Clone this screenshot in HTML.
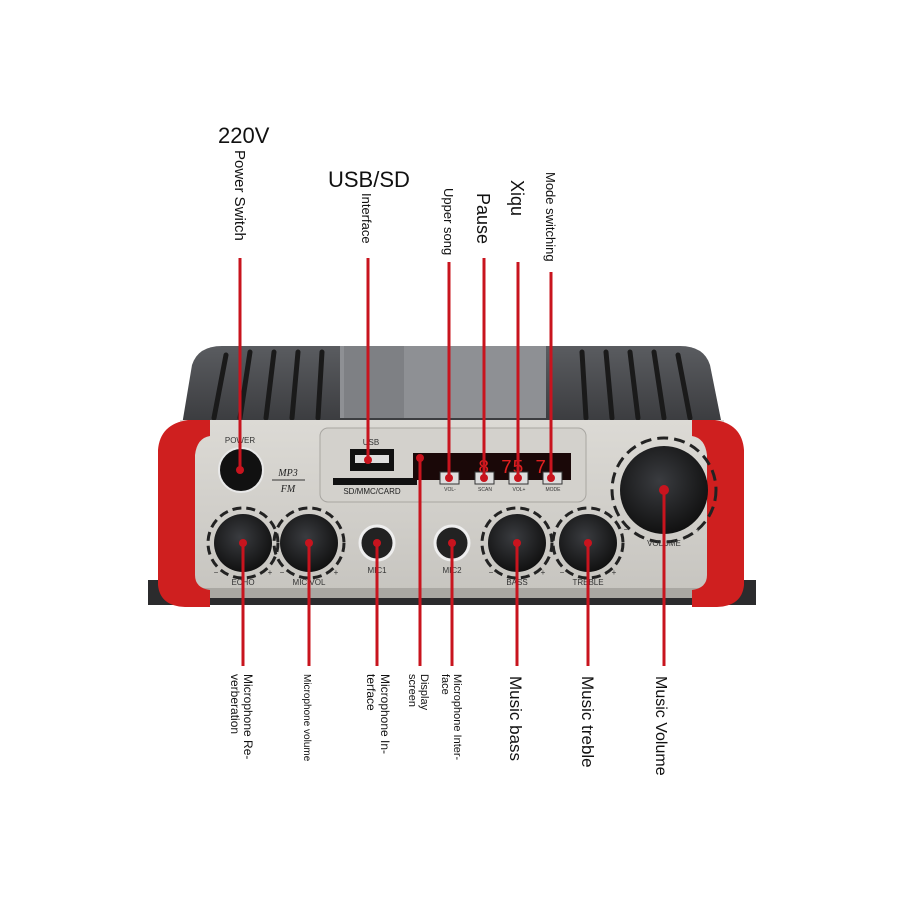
<!DOCTYPE html>
<html><head><meta charset="utf-8"><style>
html,body{margin:0;padding:0;background:#fff;}
svg{display:block;font-family:"Liberation Sans",Arial,sans-serif;}
</style></head><body>
<svg width="900" height="900" viewBox="0 0 900 900" xmlns="http://www.w3.org/2000/svg">
<defs>
<linearGradient id="hs" x1="0" y1="0" x2="0" y2="1"><stop offset="0" stop-color="#5a5c60"/><stop offset="1" stop-color="#3a3b3e"/></linearGradient>
<linearGradient id="panel" x1="0" y1="0" x2="0" y2="1"><stop offset="0" stop-color="#dcdad5"/><stop offset="1" stop-color="#c6c4bf"/></linearGradient>
<radialGradient id="knob" cx="0.45" cy="0.4" r="0.6"><stop offset="0" stop-color="#3a3c40"/><stop offset="1" stop-color="#111"/></radialGradient>
</defs>
<rect x="148" y="580" width="608" height="25" fill="#2b2b2d"/>
<path d="M182 425 L192 365 Q198 346 222 346 L680 346 Q704 346 710 365 L722 425 Z" fill="url(#hs)"/>
<g stroke="#1a1a1a" stroke-width="5" stroke-linecap="round">
<line x1="226" y1="355" x2="214" y2="418"/><line x1="250" y1="352" x2="240" y2="418"/><line x1="274" y1="352" x2="266" y2="418"/><line x1="298" y1="352" x2="292" y2="418"/><line x1="322" y1="352" x2="318" y2="418"/>
<line x1="582" y1="352" x2="586" y2="418"/><line x1="606" y1="352" x2="612" y2="418"/><line x1="630" y1="352" x2="638" y2="418"/><line x1="654" y1="352" x2="664" y2="418"/><line x1="678" y1="355" x2="690" y2="418"/>
</g>
<rect x="340" y="346" width="206" height="72" fill="#8e9094"/>
<rect x="344" y="346" width="60" height="72" fill="#7e8084"/>
<rect x="180" y="420" width="544" height="178" fill="url(#panel)"/>
<rect x="180" y="588" width="544" height="10" fill="#a9a7a2"/>
<path d="M210 420 L188 420 Q160 424 158 450 L158 585 Q160 606 185 607 L210 607 L210 590 Q195 588 195 575 L195 455 Q197 438 210 436 Z" fill="#cf1f1f"/>
<path d="M692 420 L715 420 Q742 424 744 450 L744 585 Q742 606 717 607 L692 607 L692 590 Q707 588 707 575 L707 455 Q705 438 692 436 Z" fill="#cf1f1f"/>
<rect x="320" y="428" width="266" height="74" rx="8" fill="#d3d1cc" stroke="#a8a6a1"/>
<text x="371" y="445" font-size="8" text-anchor="middle" fill="#333">USB</text>
<rect x="350" y="449" width="44" height="22" fill="#111"/>
<rect x="355" y="455" width="34" height="8" fill="#ddd"/>
<rect x="333" y="478" width="84" height="7" fill="#111"/>
<text x="372" y="494" font-size="8" text-anchor="middle" fill="#222">SD/MMC/CARD</text>
<rect x="413" y="453" width="158" height="27" fill="#1a0808"/>
<text x="478" y="473" font-size="19" fill="#e02020" font-family="Liberation Mono,monospace">8 75 7</text>
<g fill="#ddd" stroke="#333"><rect x="440" y="472" width="19" height="12"/><rect x="475" y="472" width="19" height="12"/><rect x="509" y="472" width="19" height="12"/><rect x="543" y="472" width="19" height="12"/></g>
<g font-size="5" fill="#333" text-anchor="middle"><text x="450" y="491">VOL-</text><text x="485" y="491">SCAN</text><text x="519" y="491">VOL+</text><text x="553" y="491">MODE</text></g>
<text x="240" y="443" font-size="8" text-anchor="middle" fill="#333">POWER</text>
<circle cx="241" cy="470" r="22" fill="#111" stroke="#e8e8e8" stroke-width="2"/>
<text x="288" y="476" font-size="10" font-style="italic" text-anchor="middle" fill="#222" font-family="Liberation Serif,serif">MP3</text>
<line x1="272" y1="480" x2="305" y2="480" stroke="#333"/>
<text x="288" y="492" font-size="10" font-style="italic" text-anchor="middle" fill="#222" font-family="Liberation Serif,serif">FM</text>
<g>
<circle cx="243" cy="543" r="35" fill="none" stroke="#222" stroke-width="3" stroke-dasharray="9 5"/>
<circle cx="243" cy="543" r="29" fill="url(#knob)"/>
<circle cx="309" cy="543" r="35" fill="none" stroke="#222" stroke-width="3" stroke-dasharray="9 5"/>
<circle cx="309" cy="543" r="29" fill="url(#knob)"/>
<circle cx="377" cy="543" r="17" fill="#222" stroke="#eee" stroke-width="3"/>
<circle cx="452" cy="543" r="17" fill="#222" stroke="#eee" stroke-width="3"/>
<circle cx="517" cy="543" r="35" fill="none" stroke="#222" stroke-width="3" stroke-dasharray="9 5"/>
<circle cx="517" cy="543" r="29" fill="url(#knob)"/>
<circle cx="588" cy="543" r="35" fill="none" stroke="#222" stroke-width="3" stroke-dasharray="9 5"/>
<circle cx="588" cy="543" r="29" fill="url(#knob)"/>
<circle cx="664" cy="490" r="52" fill="none" stroke="#222" stroke-width="3" stroke-dasharray="11 6"/>
<circle cx="664" cy="490" r="44" fill="url(#knob)"/>
</g>
<g font-size="8" fill="#333" text-anchor="middle">
<text x="243" y="585">ECHO</text><text x="309" y="585">MIC VOL</text><text x="377" y="573">MIC1</text><text x="452" y="573">MIC2</text><text x="517" y="585">BASS</text><text x="588" y="585">TREBLE</text><text x="664" y="546">VOLUME</text>
<text x="216" y="575">−</text><text x="270" y="575">+</text><text x="282" y="575">−</text><text x="336" y="575">+</text><text x="491" y="575">−</text><text x="543" y="575">+</text><text x="562" y="575">−</text><text x="614" y="575">+</text><text x="626" y="532">−</text><text x="698" y="532">+</text>
</g>
<g stroke="#c8141e" stroke-width="3">
<line x1="240" y1="258" x2="240" y2="470"/>
<line x1="368" y1="258" x2="368" y2="460"/>
<line x1="449" y1="262" x2="449" y2="478"/>
<line x1="484" y1="258" x2="484" y2="478"/>
<line x1="518" y1="262" x2="518" y2="478"/>
<line x1="551" y1="272" x2="551" y2="478"/>
<line x1="243" y1="543" x2="243" y2="666"/>
<line x1="309" y1="543" x2="309" y2="666"/>
<line x1="377" y1="543" x2="377" y2="666"/>
<line x1="420" y1="458" x2="420" y2="666"/>
<line x1="452" y1="543" x2="452" y2="666"/>
<line x1="517" y1="543" x2="517" y2="666"/>
<line x1="588" y1="543" x2="588" y2="666"/>
<line x1="664" y1="490" x2="664" y2="666"/>
</g>
<g fill="#c8141e"><circle cx="240" cy="470" r="4"/><circle cx="368" cy="460" r="4"/><circle cx="420" cy="458" r="4"/><circle cx="449" cy="478" r="4"/><circle cx="484" cy="478" r="4"/><circle cx="518" cy="478" r="4"/><circle cx="551" cy="478" r="4"/><circle cx="243" cy="543" r="4"/><circle cx="309" cy="543" r="4"/><circle cx="377" cy="543" r="4"/><circle cx="452" cy="543" r="4"/><circle cx="517" cy="543" r="4"/><circle cx="588" cy="543" r="4"/><circle cx="664" cy="490" r="5"/></g>
<g fill="#111">
<text x="218" y="143" font-size="22">220V</text>
<text x="328" y="187" font-size="22">USB/SD</text>
<text transform="translate(235,150) rotate(90)" font-size="15">Power Switch</text>
<text transform="translate(362,193) rotate(90)" font-size="13">Interface</text>
<text transform="translate(444,188) rotate(90)" font-size="13">Upper song</text>
<text transform="translate(477,193) rotate(90)" font-size="18">Pause</text>
<text transform="translate(511,180) rotate(90)" font-size="18">Xiqu</text>
<text transform="translate(546,172) rotate(90)" font-size="13">Mode switching</text>
<text transform="translate(244,674) rotate(90)" font-size="12">Microphone Re-</text>
<text transform="translate(231,674) rotate(90)" font-size="12">verberation</text>
<text transform="translate(304,674) rotate(90)" font-size="10">Microphone volume</text>
<text transform="translate(381,674) rotate(90)" font-size="12">Microphone In-</text>
<text transform="translate(367,674) rotate(90)" font-size="12">terface</text>
<text transform="translate(421,674) rotate(90)" font-size="11">Display</text>
<text transform="translate(409,674) rotate(90)" font-size="11">screen</text>
<text transform="translate(454,674) rotate(90)" font-size="11">Microphone Inter-</text>
<text transform="translate(442,674) rotate(90)" font-size="11">face</text>
<text transform="translate(510,676) rotate(90)" font-size="17">Music bass</text>
<text transform="translate(582,676) rotate(90)" font-size="17">Music treble</text>
<text transform="translate(656,676) rotate(90)" font-size="16">Music Volume</text>
</g>
</svg>
</body></html>
